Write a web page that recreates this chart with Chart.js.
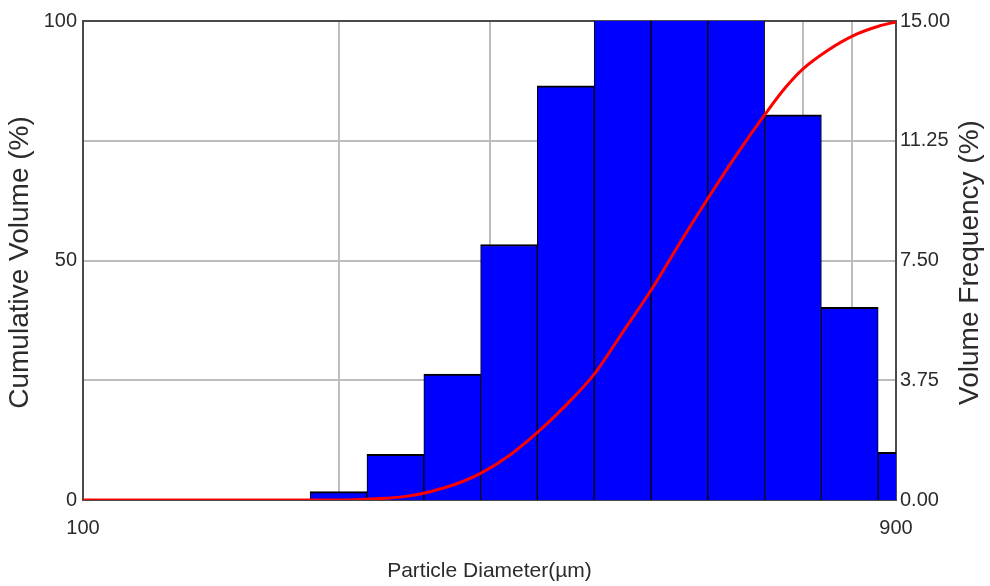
<!DOCTYPE html>
<html>
<head>
<meta charset="utf-8">
<script src="https://cdn.jsdelivr.net/npm/chart.js@4/dist/chart.umd.min.js"></script>
<style>
  html, body { margin: 0; padding: 0; background: #ffffff; }
  canvas { display: block; }
</style>
</head>
<body>
<canvas id="psd" width="990" height="586"></canvas>
<script>
// Size classes: geometric centre of each 1/15-decade sieve bin (µm)
const binCentres = [199.5, 232.6, 271.3, 316.2, 368.6, 429.9, 501.2, 584.4, 681.3, 794.3, 926.1];
// Volume frequency in each bin (%)
const volumeFrequency = [0.26, 1.43, 3.94, 8.0, 12.97, 17.3, 19.4, 17.5, 12.06, 6.03, 1.49];

// Cumulative volume curve
const curveDiameters   = [100, 200, 211.4, 223.1, 235.6, 248.7, 262.4, 277.0, 293.2, 317.1, 342.0, 368.9, 399.0, 430.3, 465.4, 502.0, 542.9, 585.6, 633.4, 666.8, 700.0, 748.8, 801.0, 861.9, 900];
const cumulativeVolume = [0,   0,   0.1,   0.3,   0.6,   1.25,  2.3,   3.65,  5.6,   9.4,   14.2,  19.8,  26.5,  35.1,  44.1,  53.7,  63.3,  72.2,  80.8,  86.0,  90.0,  93.9,  96.9,  99.0,  99.8];

// Axis ticks
const xTickValues   = [100, 200, 300, 400, 500, 600, 700, 800, 900];
const xTickLabelled = [100, 900];
const leftTicks     = [0, 25, 50, 75, 100];
const leftLabelled  = [0, 50, 100];
const rightTicks    = [0, 3.75, 7.5, 11.25, 15];

const xTitle     = 'Particle Diameter(\u00b5m)';
const leftTitle  = 'Cumulative Volume (%)';
const rightTitle = 'Volume Frequency (%)';

const FONT = '"Liberation Sans", Arial, Helvetica, sans-serif';
const TEXT = '#2b2b2b';
const GRID = '#bdbdbd';

// Dark frame around the plotting area, under the data
const framePlugin = {
  id: 'frame',
  beforeDatasetsDraw(chart) {
    const { ctx, chartArea: a } = chart;
    ctx.save();
    ctx.strokeStyle = '#4a4a4a';
    ctx.lineWidth = 2;
    ctx.strokeRect(a.left, a.top, a.right - a.left, a.bottom - a.top);
    ctx.restore();
  }
};

// Axis titles; both vertical titles read bottom-to-top
const titlePlugin = {
  id: 'axisTitles',
  afterDraw(chart) {
    const { ctx, chartArea: a } = chart;
    const midY = (a.top + a.bottom) / 2 + 2;
    ctx.save();
    ctx.fillStyle = TEXT;
    ctx.textAlign = 'center';
    ctx.textBaseline = 'middle';
    ctx.font = '28px ' + FONT;
    [[a.left - 63, leftTitle], [a.right + 74, rightTitle]].forEach(([x, t]) => {
      ctx.save();
      ctx.translate(x, midY);
      ctx.rotate(-Math.PI / 2);
      ctx.fillText(t, 0, 0);
      ctx.restore();
    });
    ctx.font = '21px ' + FONT;
    ctx.fillText(xTitle, (a.left + a.right) / 2, a.bottom + 71);
    ctx.restore();
  }
};

new Chart(document.getElementById('psd'), {
  type: 'bar',
  data: {
    datasets: [
      {
        type: 'line',
        label: leftTitle,
        data: curveDiameters.map((d, i) => ({ x: d, y: cumulativeVolume[i] })),
        yAxisID: 'y',
        borderColor: '#ff0000',
        borderWidth: 3,
        pointRadius: 0,
        cubicInterpolationMode: 'monotone',
        fill: false,
        order: 0
      },
      {
        type: 'bar',
        label: rightTitle,
        data: binCentres.map((d, i) => ({ x: d, y: volumeFrequency[i] })),
        yAxisID: 'y2',
        backgroundColor: '#0000ff',
        borderColor: '#000000',
        borderWidth: { top: 2, left: 1, right: 1, bottom: 0 },
        borderSkipped: false,
        barThickness: 'flex',
        barPercentage: 1,
        categoryPercentage: 1,
        order: 1
      }
    ]
  },
  options: {
    responsive: false,
    animation: false,
    devicePixelRatio: 1,
    layout: { padding: { top: 21, left: 0, right: 0, bottom: 0 } },
    plugins: { legend: { display: false }, tooltip: { enabled: false } },
    scales: {
      x: {
        type: 'logarithmic',
        min: 100,
        max: 900,
        offset: false,
        afterBuildTicks: s => { s.ticks = xTickValues.map(v => ({ value: v })); },
        afterFit: s => { s.height = 86; },
        grid: { display: true, color: GRID, lineWidth: 2, drawTicks: false, offset: false },
        border: { display: false },
        ticks: {
          autoSkip: false,
          maxRotation: 0,
          padding: 16,
          color: TEXT,
          font: { family: FONT, size: 20 },
          callback: v => (xTickLabelled.includes(v) ? String(v) : '')
        }
      },
      y: {
        type: 'linear',
        position: 'left',
        min: 0,
        max: 100,
        afterBuildTicks: s => { s.ticks = leftTicks.map(v => ({ value: v })); },
        afterFit: s => { s.width = 83; },
        grid: { display: true, color: GRID, lineWidth: 2, drawTicks: false },
        border: { display: false },
        ticks: {
          padding: 6,
          color: TEXT,
          font: { family: FONT, size: 20 },
          callback: v => (leftLabelled.includes(v) ? String(v) : '')
        }
      },
      y2: {
        type: 'linear',
        position: 'right',
        min: 0,
        max: 15,
        afterBuildTicks: s => { s.ticks = rightTicks.map(v => ({ value: v })); },
        afterFit: s => { s.width = 94; },
        grid: { display: false, drawTicks: false },
        border: { display: false },
        ticks: {
          padding: 4,
          color: TEXT,
          font: { family: FONT, size: 20 },
          callback: v => Number(v).toFixed(2)
        }
      }
    }
  },
  plugins: [framePlugin, titlePlugin]
});
</script>
</body>
</html>
